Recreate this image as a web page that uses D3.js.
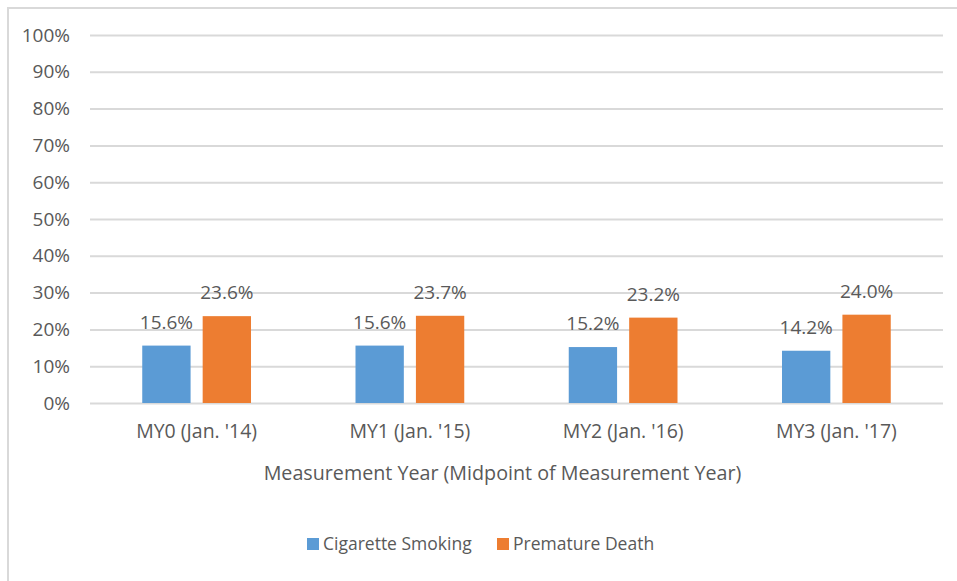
<!DOCTYPE html>
<html>
<head>
<meta charset="utf-8">
<script src="https://cdn.jsdelivr.net/npm/d3@7"></script>
<style>
  body { margin: 0; background: #fff; }
  text { font-family: "Open Sans", sans-serif; fill: #595959; }
</style>
</head>
<body>
<div id="chart"></div>
<script>
var categories = ["MY0 (Jan. '14)", "MY1 (Jan. '15)", "MY2 (Jan. '16)", "MY3 (Jan. '17)"];
var seriesNames = ["Cigarette Smoking", "Premature Death"];
var smoking = [15.6, 15.6, 15.2, 14.2];
var death = [23.6, 23.7, 23.2, 24.0];
var yTicks = [0, 10, 20, 30, 40, 50, 60, 70, 80, 90, 100];
var colors = ["#5B9BD5", "#ED7D31"];

var svgWidth = 957, svgHeight = 581;
var margin = { top: 35, right: 14, bottom: 178, left: 90 };
var width = svgWidth - margin.left - margin.right;
var height = svgHeight - margin.top - margin.bottom;

var svg = d3.select("#chart").append("svg")
  .attr("width", svgWidth)
  .attr("height", svgHeight);

// chart frame (only top and left edges show in the picture)
svg.append("path")
  .attr("d", "M8,581 L8,8 L957,8")
  .attr("fill", "none")
  .attr("stroke", "#D9D9D9")
  .attr("stroke-width", 2);

var chartGroup = svg.append("g")
  .attr("transform", `translate(${margin.left}, ${margin.top})`);

var data = categories.map(function(c, i) {
  return { cat: c, values: [smoking[i], death[i]] };
});

var x0 = d3.scaleBand().domain(categories).range([0, width]).paddingInner(0.49).paddingOuter(0.245);
var x1 = d3.scaleBand().domain([0, 1]).range([0, x0.bandwidth()]).paddingInner(0.2);
var y = d3.scaleLinear().domain([0, 100]).range([height, 0]);

// gridlines + y labels
var leftAxis = d3.axisLeft(y).tickValues(yTicks).tickSize(-width).tickFormat(d => d + "%");
var yAxis = chartGroup.append("g").call(leftAxis);
yAxis.select(".domain").remove();
yAxis.selectAll(".tick line").attr("stroke", "#D9D9D9").attr("stroke-width", 2);
yAxis.selectAll(".tick text")
  .attr("x", -20)
  .attr("font-size", 19)
  .attr("fill", "#595959")
  .attr("font-family", "Open Sans, sans-serif");

// x labels
var bottomAxis = d3.axisBottom(x0).tickSize(0).tickPadding(21);
var xAxis = chartGroup.append("g")
  .attr("transform", `translate(0, ${height})`)
  .call(bottomAxis);
xAxis.select(".domain").remove();
xAxis.selectAll(".tick text")
  .attr("font-size", 19.5)
  .attr("fill", "#595959")
  .attr("font-family", "Open Sans, sans-serif");

// bars
var groups = chartGroup.selectAll(".grp")
  .data(data)
  .enter()
  .append("g")
  .attr("transform", d => `translate(${x0(d.cat)}, 0)`);

groups.selectAll("rect")
  .data(d => d.values)
  .enter()
  .append("rect")
  .attr("x", (d, i) => x1(i))
  .attr("width", x1.bandwidth())
  .attr("y", d => y(d))
  .attr("height", d => height - y(d))
  .attr("fill", (d, i) => colors[i]);

groups.selectAll(".lbl")
  .data(d => d.values)
  .enter()
  .append("text")
  .attr("x", (d, i) => x1(i) + x1.bandwidth() / 2)
  .attr("y", d => y(d) - 17)
  .attr("text-anchor", "middle")
  .attr("font-size", 19)
  .text(d => d.toFixed(1) + "%");

// axis title
chartGroup.append("text")
  .attr("x", width / 2 - 14)
  .attr("y", height + 77)
  .attr("text-anchor", "middle")
  .attr("font-size", 19.7)
  .text("Measurement Year (Midpoint of Measurement Year)");

// legend
var legend = svg.append("g").attr("transform", "translate(307, 538)");
var legendX = [0, 190];
seriesNames.forEach(function(name, i) {
  legend.append("rect")
    .attr("x", legendX[i])
    .attr("y", 0)
    .attr("width", 12)
    .attr("height", 12)
    .attr("fill", colors[i]);
  legend.append("text")
    .attr("x", legendX[i] + 16)
    .attr("y", 12)
    .attr("font-size", 17.5)
    .text(name);
});
</script>
</body>
</html>
